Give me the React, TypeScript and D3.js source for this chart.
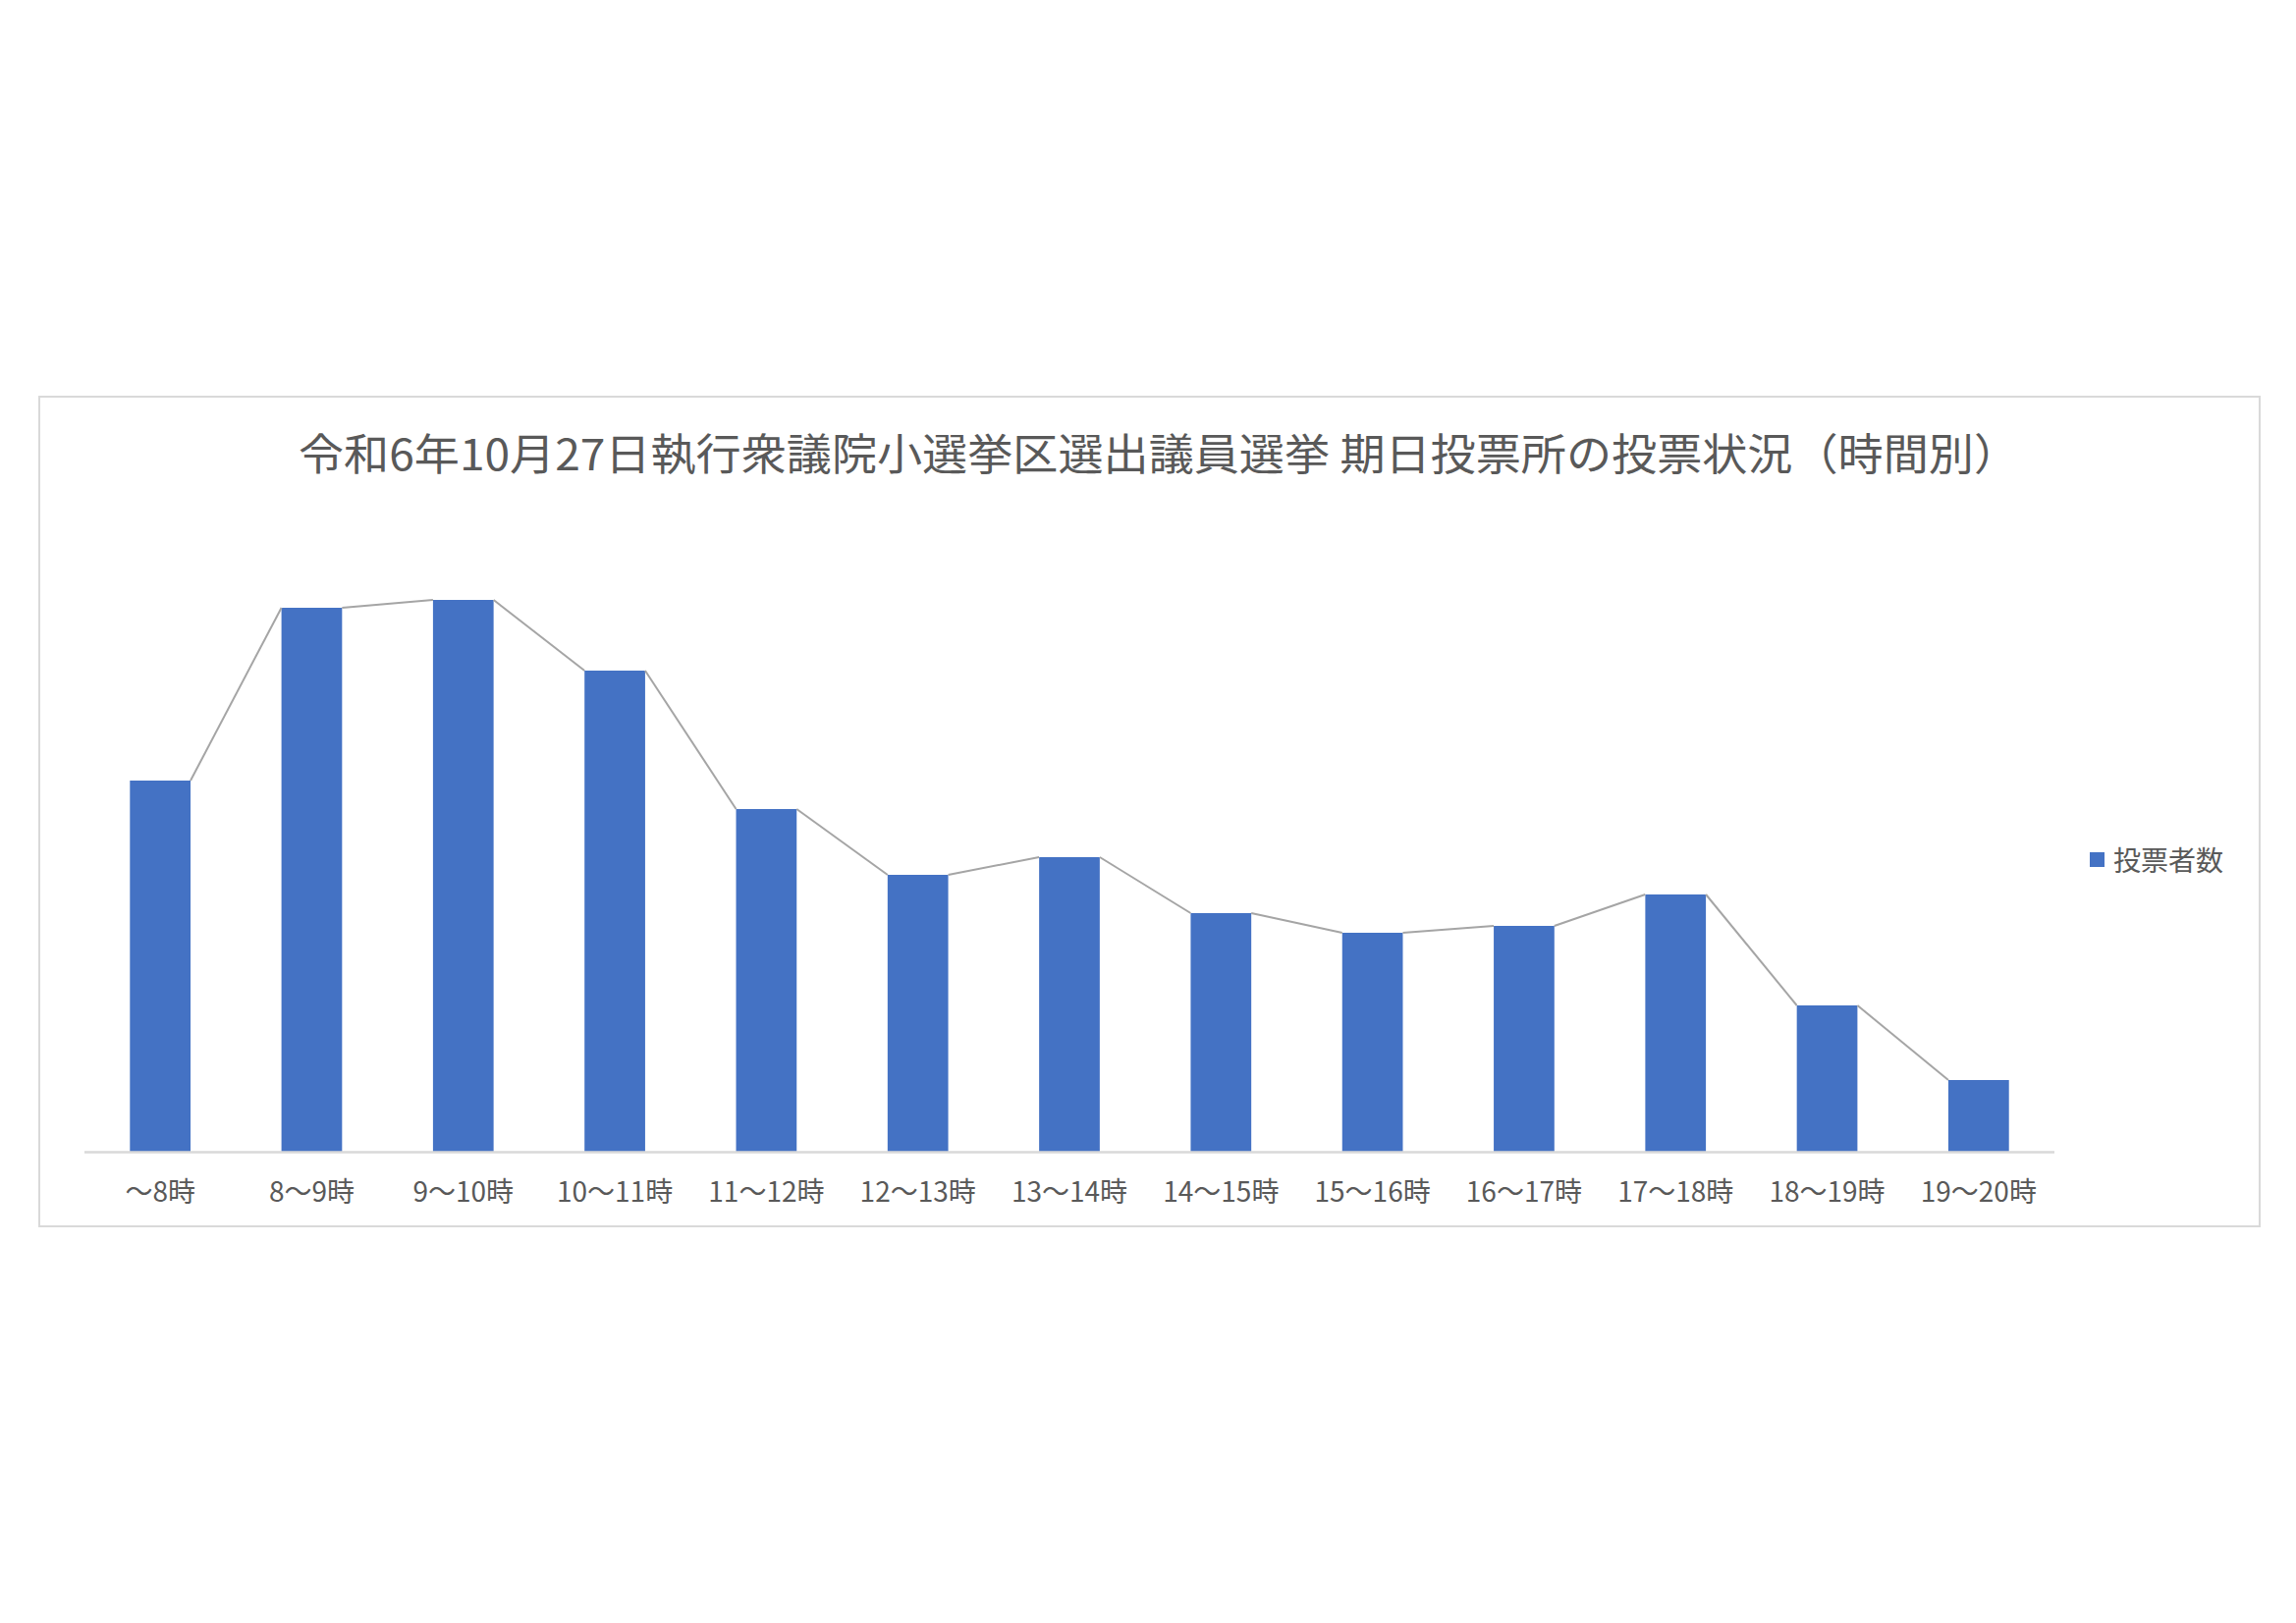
import { useEffect, useRef } from "react"
import * as d3 from "d3"

// 時間帯
const hours = [
    "～8時", "8～9時", "9～10時", "10～11時", "11～12時", "12～13時", "13～14時",
    "14～15時", "15～16時", "16～17時", "17～18時", "18～19時", "19～20時"
]
// 投票者数 (no axis in the source)
const voters = [378, 554, 562, 490, 349, 282, 300, 243, 223, 230, 262, 149, 73]
const yDomain = [0, 600]

const titleText = "令和6年10月27日執行衆議院小選挙区選出議員選挙 期日投票所の投票状況（時間別）"
const legendText = "投票者数"

export default function App() {
    const ref = useRef<SVGSVGElement>(null)

    useEffect(() => {
        const W = 2338
        const H = 1653
        const font = "'Noto Sans CJK JP', 'Noto Sans', sans-serif"
        const textColor = '#595959'
        const barColor = '#4472C4'

        const frame = { left: 40, top: 404, right: 2301, bottom: 1249 }
        const plot = { left: 86, right: 2092, top: 573, bottom: 1173 }

        const svg = d3.select(ref.current)
        svg.selectAll("*").remove()
        svg.attr("width", W).attr("height", H).attr("viewBox", `0 0 ${W} ${H}`)

        svg.append("rect")
            .attr("x", 0).attr("y", 0).attr("width", W).attr("height", H)
            .attr("fill", "#fff")

        // chart frame
        svg.append("rect")
            .attr("x", frame.left).attr("y", frame.top)
            .attr("width", frame.right - frame.left)
            .attr("height", frame.bottom - frame.top)
            .attr("fill", "#fff")
            .attr("stroke", "#D9D9D9")
            .attr("stroke-width", 2)

        // title
        svg.append("text")
            .attr("x", 304).attr("y", 460)
            .attr("dominant-baseline", "central")
            .attr("textLength", 1752)
            .attr("lengthAdjust", "spacingAndGlyphs")
            .attr("font-family", font)
            .attr("font-size", 44)
            .attr("fill", textColor)
            .text(titleText)

        const x = d3.scaleBand<string>()
            .domain(hours)
            .range([plot.left, plot.right])
            .paddingInner(0.6)
            .paddingOuter(0.3)
        const y = d3.scaleLinear().domain(yDomain).range([plot.bottom, plot.top])

        const data = hours.map((h, i) => ({ h, v: voters[i] }))

        // bars
        svg.append("g")
            .selectAll("rect")
            .data(data)
            .join("rect")
                .attr("x", d => x(d.h)!)
                .attr("y", d => y(d.v))
                .attr("width", x.bandwidth())
                .attr("height", d => y(0) - y(d.v))
                .attr("fill", barColor)

        // series lines: top-right of one bar to top-left of the next
        const segs = data.slice(0, -1).map((d, i) => [
            [x(d.h)! + x.bandwidth(), y(d.v)],
            [x(data[i + 1].h)!, y(data[i + 1].v)]
        ] as [number, number][])
        svg.append("g")
            .selectAll("path")
            .data(segs)
            .join("path")
                .attr("d", d => d3.line()(d))
                .attr("fill", "none")
                .attr("stroke", "#A5A5A5")
                .attr("stroke-width", 2)

        // category axis
        svg.append("path")
            .attr("d", `M${plot.left} ${plot.bottom + 0.5} H${plot.right}`)
            .attr("stroke", "#D9D9D9")
            .attr("stroke-width", 2.5)

        svg.append("g")
            .selectAll("text")
            .data(hours)
            .join("text")
                .attr("x", d => x(d)! + x.bandwidth() / 2)
                .attr("y", 1212)
                .attr("text-anchor", "middle")
                .attr("dominant-baseline", "central")
                .attr("font-family", font)
                .attr("font-size", 28)
                .attr("fill", textColor)
                .text(d => d)

        // legend
        const legend = svg.append("g")
        legend.append("rect")
            .attr("x", 2128).attr("y", 868).attr("width", 15).attr("height", 15)
            .attr("fill", barColor)
        legend.append("text")
            .attr("x", 2152).attr("y", 875)
            .attr("dominant-baseline", "central")
            .attr("font-family", font)
            .attr("font-size", 28)
            .attr("fill", textColor)
            .text(legendText)
    }, [])

    return (
        <svg ref={ref} style={{ position: "absolute", left: 0, top: 0, display: "block" }} />
    )
}
